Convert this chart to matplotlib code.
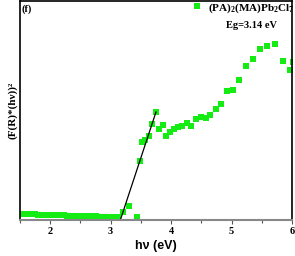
import matplotlib
matplotlib.use('Agg')
from matplotlib import pyplot as plt
from matplotlib.ticker import MultipleLocator, NullLocator

plt.rcParams['mathtext.fontset'] = 'custom'
plt.rcParams['mathtext.rm'] = 'Liberation Serif:bold'
plt.rcParams['mathtext.bf'] = 'Liberation Serif:bold'
plt.rcParams['mathtext.it'] = 'Liberation Serif:bold'

# flat baseline below the gap
base_ev = [1.50, 1.56, 1.62, 1.68, 1.74, 1.80, 1.86, 1.92, 1.98, 2.04, 2.10, 2.16, 2.22, 2.28,
           2.34, 2.40, 2.46, 2.52, 2.58, 2.64, 2.70, 2.76, 2.82, 2.88, 2.94, 3.00, 3.06, 3.12]
base_y = [5.8, 5.9, 5.7, 5.6, 5.6, 5.4, 5.3, 5.2, 5.0, 5.0, 4.8, 4.7, 4.6, 4.5,
          4.3, 4.2, 4.1, 4.0, 3.9, 3.8, 3.7, 3.6, 3.5, 3.4, 3.4, 3.3, 3.3, 3.3]

# absorption edge and above
edge_ev = [3.21, 3.30, 3.43, 3.49, 3.52, 3.575, 3.64, 3.68, 3.745,
           3.80, 3.86, 3.92, 3.98, 4.05, 4.12, 4.18, 4.26, 4.33, 4.41, 4.50, 4.57,
           4.65, 4.74, 4.83, 4.93, 5.03, 5.13, 5.24, 5.35, 5.47, 5.59, 5.72, 5.85, 5.975, 6.01]
edge_y = [8.3, 14.3, 2.7, 59, 77.7, 80, 84, 95.7, 108,
          90.7, 94.7, 84, 88.3, 90.7, 92.7, 94, 97.3, 94.5, 100.7, 103.3, 102,
          105.5, 111, 116.3, 128.7, 130, 140, 154.5, 160.7, 171, 174.2, 175.8, 159.5, 150, 158]

# linear fit of the edge
fit_ev = [3.16, 3.75]
fit_y = [0, 108]

green = '#14ec14'

fig = plt.figure(figsize=(2.95, 2.56), dpi=100)
ax = fig.add_axes([20 / 295, 36 / 256, 272 / 295, 219 / 256])

ax.plot(base_ev + edge_ev, base_y + edge_y, 's', color=green, markersize=3.8,
        markeredgewidth=0, label='(PA)$_2$(MA)Pb$_2$Cl$_7$')
ax.plot(fit_ev, fit_y, '-', color='black', linewidth=0.9)

ax.set_xlim(1.5, 6)
ax.set_ylim(0, 219)
ax.xaxis.set_major_locator(MultipleLocator(1))
ax.xaxis.set_minor_locator(MultipleLocator(0.5))
ax.yaxis.set_major_locator(NullLocator())
ax.tick_params(axis='x', which='major', length=3, width=0.8, pad=2, color='#555555')
ax.tick_params(axis='x', which='minor', length=2, width=0.8, color='#555555')
for lab in ax.get_xticklabels():
    lab.set_fontfamily('Liberation Serif')
    lab.set_fontweight('bold')
    lab.set_fontsize(7.5)

for s in ['left', 'top', 'right']:
    ax.spines[s].set_linewidth(1.2)
ax.spines['bottom'].set_color('#888888')
ax.spines['bottom'].set_linewidth(1.5)

ax.set_xlabel('hν (eV)', fontsize=9, fontweight='bold', family='Liberation Sans', labelpad=3)
ax.set_ylabel('(F(R)*(hν))²', fontsize=8, fontweight='bold', family='Liberation Serif', labelpad=2)

leg = ax.legend(loc='upper right', bbox_to_anchor=(1.03, 1.025), frameon=False,
                handlelength=0.8, handletextpad=0.6, borderaxespad=0.1,
                prop={'family': 'Liberation Serif', 'weight': 'bold', 'size': 8})
ax.text(0.945, 0.89, 'Eg=3.14 eV', transform=ax.transAxes, ha='right', va='center',
        fontsize=7.5, fontweight='bold', family='Liberation Serif')
ax.text(0.005, 0.985, '(f)', transform=ax.transAxes, ha='left', va='top',
        fontsize=7.5, fontweight='bold', family='Liberation Serif')

fig.savefig('out.png', dpi=100)
